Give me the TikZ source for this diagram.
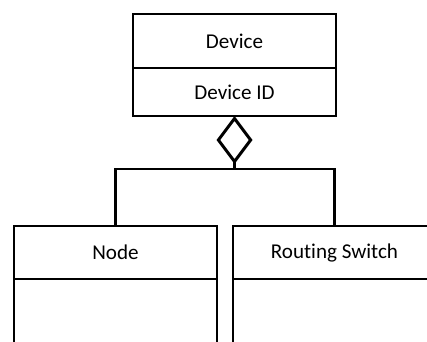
\documentclass[tikz,border=0pt]{standalone}
\usepackage{fontspec}
\setmainfont[Ligatures=NoCommon]{Carlito}
\usetikzlibrary{positioning,arrows.meta}

\begin{document}
\begin{tikzpicture}[font=\fontsize{12}{14}\selectfont, line width=1.7pt,
 cls/.style={draw,line width=1.7pt,minimum width=4.06cm,inner sep=0pt,outer sep=0pt,align=center},
 agg/.style={-{Diamond[open,length=0.96cm,width=0.72cm]}}]
\useasboundingbox (0,0) rectangle (8.54,-6.84);
\clip (0,0) rectangle (8.54,-6.84);
% Device class
\node[cls,minimum height=1.08cm] (dev) at (4.69,-0.82) {Device};
\node[cls,minimum height=0.96cm,below=0pt of dev] (devid) {Device ID};
% subclasses
\node[cls,minimum height=1.06cm] (nd) at (2.31,-5.05) {Node};
\node[cls,minimum height=1.7cm,below=0pt of nd] (ndbody) {};
\node[cls,minimum height=1.06cm] (rs) at (6.69,-5.05) {Routing Switch};
\node[cls,minimum height=1.7cm,below=0pt of rs] (rsbody) {};
% aggregation
\coordinate (j) at (4.69,-3.38);
\draw[agg] (j) -- (devid.south);
\draw (nd.north) |- (j) -| (rs.north);
\end{tikzpicture}
\end{document}
